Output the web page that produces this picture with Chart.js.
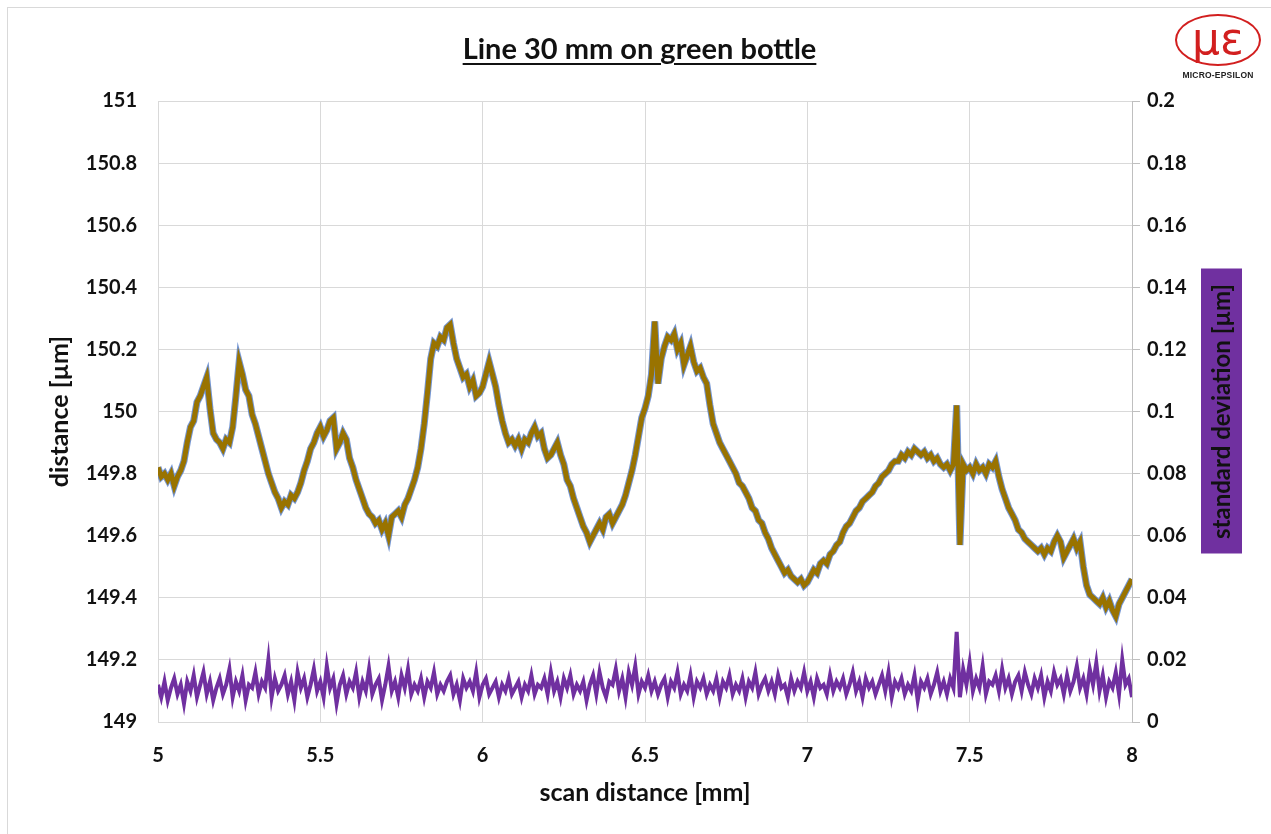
<!DOCTYPE html>
<html>
<head>
<meta charset="utf-8">
<script src="https://cdn.jsdelivr.net/npm/chart.js@4.4.1/dist/chart.umd.min.js"></script>
<style>
    html, body { margin: 0; padding: 0; background: #fff; }
    #wrap { position: relative; width: 1271px; height: 834px; overflow: hidden; }
    #frame { position: absolute; left: 7px; top: 7px; width: 1280px; height: 840px; border: 1px solid #d9d9d9; box-sizing: border-box; }
    #title { position: absolute; left: 0; width: 1279px; top: 30px; text-align: center;
             font: bold 29px Lato, sans-serif; color: #111; text-decoration: underline; text-underline-offset: 4px; }
    #logo { position: absolute; left: 1172px; top: 14px; width: 92px; }
    #logo .ring { width: 86px; height: 52px; border: 2.5px solid #d21f1f; border-radius: 50%; margin: 0 auto;
                  font: 44px "DejaVu Sans", sans-serif; color: #d21f1f; text-align: center; line-height: 46px; box-sizing: border-box; }
    #logo .name { font: bold 8.5px "Liberation Sans", Arial, sans-serif; color: #222; text-align: center; margin-top: 4px; letter-spacing: 0.2px; }
    #chartBox { position: absolute; left: 0; top: 0; width: 1271px; height: 834px; }
</style>
</head>
<body>
<div id="wrap">
    <div id="frame"></div>
    <div id="chartBox"><canvas id="lineChart"></canvas></div>
    <div id="title">Line 30 mm on green bottle</div>
    <div id="logo"><div class="ring">με</div><div class="name">MICRO-EPSILON</div></div>
</div>
<script>
// 측정 위치 (mm), 0.01 mm 간격
const scanStart = 5;
const scanStep = 0.01;

// 거리 프로파일 [µm] (5.00 ~ 8.00 mm)
const distance = [
    149.82, 149.79, 149.80, 149.78, 149.80, 149.76, 149.79, 149.81, 149.84, 149.90,
    149.95, 149.97, 150.03, 150.05, 150.08, 150.11, 150.01, 149.93, 149.91, 149.90,
    149.88, 149.91, 149.90, 149.95, 150.05, 150.16, 150.12, 150.07, 150.05, 149.99,
    149.96, 149.92, 149.88, 149.84, 149.80, 149.77, 149.74, 149.72, 149.69, 149.71,
    149.70, 149.73, 149.72, 149.74, 149.77, 149.81, 149.84, 149.88, 149.90, 149.93,
    149.95, 149.92, 149.94, 149.97, 149.98, 149.88, 149.90, 149.93, 149.91, 149.85,
    149.82, 149.78, 149.75, 149.72, 149.69, 149.67, 149.66, 149.64, 149.65, 149.62,
    149.64, 149.60, 149.66, 149.67, 149.68, 149.66, 149.70, 149.72, 149.75, 149.78,
    149.82, 149.88, 149.96, 150.06, 150.17, 150.22, 150.21, 150.24, 150.23, 150.27,
    150.28, 150.22, 150.17, 150.14, 150.11, 150.12, 150.08, 150.10, 150.05, 150.06,
    150.08, 150.12, 150.16, 150.12, 150.08, 150.02, 149.97, 149.93, 149.90, 149.91,
    149.89, 149.91, 149.88, 149.91, 149.90, 149.93, 149.95, 149.92, 149.93, 149.88,
    149.85, 149.86, 149.88, 149.90, 149.86, 149.83, 149.78, 149.76, 149.72, 149.69,
    149.66, 149.63, 149.61, 149.58, 149.60, 149.62, 149.64, 149.62, 149.66, 149.67,
    149.64, 149.66, 149.68, 149.70, 149.73, 149.77, 149.81, 149.86, 149.92, 149.98,
    150.01, 150.05, 150.12, 150.29, 150.09, 150.17, 150.21, 150.24, 150.23, 150.25,
    150.20, 150.22, 150.15, 150.18, 150.21, 150.16, 150.13, 150.14, 150.11, 150.09,
    150.02, 149.96, 149.93, 149.90, 149.88, 149.86, 149.84, 149.82, 149.80, 149.77,
    149.76, 149.74, 149.72, 149.69, 149.68, 149.65, 149.64, 149.61, 149.59, 149.56,
    149.54, 149.52, 149.50, 149.48, 149.49, 149.47, 149.46, 149.45, 149.46, 149.44,
    149.45, 149.47, 149.49, 149.48, 149.51, 149.52, 149.51, 149.54, 149.55, 149.57,
    149.58, 149.61, 149.63, 149.64, 149.66, 149.68, 149.69, 149.71, 149.72, 149.73,
    149.74, 149.76, 149.77, 149.79, 149.80, 149.81, 149.83, 149.84, 149.84, 149.86,
    149.85, 149.87, 149.86, 149.88, 149.87, 149.86, 149.87, 149.85, 149.86, 149.84,
    149.85, 149.83, 149.82, 149.83, 149.81, 149.83, 150.02, 149.57, 149.83, 149.81,
    149.82, 149.80, 149.83, 149.81, 149.82, 149.80, 149.83, 149.82, 149.84, 149.79,
    149.75, 149.72, 149.69, 149.67, 149.65, 149.62, 149.61, 149.59, 149.58, 149.57,
    149.56, 149.55, 149.56, 149.54, 149.56, 149.55, 149.58, 149.60, 149.58, 149.53,
    149.55, 149.57, 149.59, 149.56, 149.58, 149.50, 149.44, 149.41, 149.40, 149.39,
    149.38, 149.40, 149.37, 149.39, 149.36, 149.34, 149.38, 149.40, 149.42, 149.44,
    149.46
];

// 표준편차 [µm]
const stdDev = [
    0.012, 0.008, 0.013, 0.007, 0.011, 0.014, 0.009, 0.012, 0.006, 0.013,
    0.010, 0.015, 0.008, 0.012, 0.016, 0.009, 0.013, 0.007, 0.011, 0.014,
    0.009, 0.012, 0.017, 0.008, 0.013, 0.010, 0.015, 0.007, 0.012, 0.011,
    0.016, 0.009, 0.013, 0.011, 0.020, 0.008, 0.014, 0.010, 0.012, 0.015,
    0.009, 0.013, 0.007, 0.016, 0.011, 0.014, 0.008, 0.012, 0.017, 0.010,
    0.013, 0.008, 0.018, 0.011, 0.014, 0.006, 0.012, 0.015, 0.009, 0.013,
    0.011, 0.016, 0.008, 0.013, 0.010, 0.017, 0.009, 0.012, 0.014, 0.007,
    0.012, 0.018, 0.010, 0.013, 0.008, 0.015, 0.011, 0.017, 0.009, 0.012,
    0.010, 0.014, 0.008, 0.013, 0.011, 0.016, 0.009, 0.012, 0.010, 0.013,
    0.015, 0.009, 0.012, 0.007, 0.014, 0.011, 0.013, 0.010, 0.016, 0.008,
    0.012, 0.014, 0.009, 0.011, 0.013, 0.008, 0.012, 0.010, 0.014, 0.009,
    0.011, 0.013, 0.008, 0.012, 0.010, 0.015, 0.009, 0.012, 0.011, 0.014,
    0.009, 0.016, 0.010, 0.013, 0.008, 0.014, 0.011, 0.015, 0.009, 0.012,
    0.010, 0.013, 0.007, 0.012, 0.015, 0.009, 0.016, 0.011, 0.008, 0.013,
    0.012, 0.017, 0.010, 0.014, 0.008, 0.016, 0.012, 0.018, 0.009, 0.013,
    0.011, 0.015, 0.010, 0.013, 0.009, 0.012, 0.014, 0.008, 0.013, 0.011,
    0.016, 0.009, 0.012, 0.010, 0.015, 0.008, 0.013, 0.011, 0.014, 0.009,
    0.012, 0.010, 0.014, 0.008, 0.013, 0.011, 0.015, 0.009, 0.012, 0.010,
    0.014, 0.008, 0.013, 0.011, 0.016, 0.009, 0.012, 0.014, 0.010, 0.013,
    0.009, 0.015, 0.011, 0.012, 0.008, 0.014, 0.010, 0.013, 0.011, 0.016,
    0.010, 0.013, 0.008, 0.014, 0.011, 0.012, 0.009, 0.015, 0.010, 0.013,
    0.011, 0.014, 0.009, 0.012, 0.016, 0.010, 0.013, 0.008, 0.014, 0.011,
    0.013, 0.009, 0.012, 0.015, 0.010, 0.016, 0.008, 0.013, 0.011, 0.014,
    0.009, 0.012, 0.010, 0.015, 0.007, 0.013, 0.011, 0.014, 0.009, 0.012,
    0.016, 0.010, 0.013, 0.009, 0.014, 0.011, 0.029, 0.008, 0.017, 0.012,
    0.019, 0.010, 0.014, 0.011, 0.018, 0.009, 0.013, 0.012, 0.015, 0.010,
    0.017, 0.011, 0.014, 0.009, 0.013, 0.015, 0.010, 0.016, 0.012, 0.009,
    0.014, 0.011, 0.015, 0.008, 0.013, 0.010, 0.016, 0.012, 0.014, 0.009,
    0.015, 0.010, 0.013, 0.018, 0.011, 0.014, 0.009, 0.017, 0.012, 0.019,
    0.010, 0.015, 0.008, 0.013, 0.011, 0.016, 0.009, 0.020, 0.012, 0.014,
    0.008
];

// 축 범위
const distTicks = { min: 149, max: 151, step: 0.2 };
const stdTicks = { min: 0, max: 0.2, step: 0.02 };
const scanTicks = { min: 5, max: 8, step: 0.5 };

const scanPos = distance.map((_, i) => +(scanStart + i * scanStep).toFixed(2));

const tickFont = { family: 'Lato', size: 20, weight: 'bold' };
const titleFont = { family: 'Lato', size: 25, weight: 'bold' };

// 오른쪽 축 제목 (보라색 박스)
const stdTitlePlugin = {
    id: 'stdTitle',
    beforeDraw(chart) {
        const ctx = chart.ctx;
        const area = chart.chartArea;
        const cy = (area.top + area.bottom) / 2;
        ctx.save();
        ctx.fillStyle = '#7030A0';
        ctx.fillRect(1201, cy - 143, 41, 285);
        ctx.translate(1222, cy);
        ctx.rotate(-Math.PI / 2);
        ctx.font = 'bold 24px Lato';
        ctx.fillStyle = '#111';
        ctx.textAlign = 'center';
        ctx.textBaseline = 'middle';
        ctx.fillText('standard deviation [µm]', 0, 0);
        ctx.restore();
    }
};

initChart();

function initChart() {
    // 데이터셋은 앞의 것이 위에 그려짐
    new Chart(document.getElementById('lineChart'), {
        type: 'line',
        data: {
            labels: scanPos,
            datasets: [
                {
                    label: 'distance',
                    data: distance,
                    yAxisID: 'y',
                    borderColor: '#997300',
                    borderWidth: 5
                },
                {
                    label: 'distance (blue)',
                    data: distance,
                    yAxisID: 'y',
                    borderColor: 'rgba(68, 114, 196, 0.75)',
                    borderWidth: 7
                },
                {
                    label: 'standard deviation',
                    data: stdDev,
                    yAxisID: 'y1',
                    borderColor: '#7030A0',
                    borderWidth: 4
                }
            ]
        },
        options: {
            responsive: true,
            maintainAspectRatio: false,
            animation: false,
            layout: { padding: { top: 101, left: 0, right: 0, bottom: 0 } },
            elements: { point: { radius: 0 }, line: { tension: 0 } },
            plugins: { legend: { display: false }, tooltip: { enabled: false } },
            scales: {
                x: {
                    type: 'linear',
                    min: scanTicks.min,
                    max: scanTicks.max,
                    afterFit: s => { s.height = 112; },
                    ticks: {
                        stepSize: scanTicks.step,
                        font: tickFont,
                        color: '#111',
                        padding: 22,
                        maxRotation: 0,
                        callback: v => String(+v.toFixed(1))
                    },
                    grid: { color: '#d9d9d9', drawTicks: false },
                    border: { color: '#d9d9d9' },
                    title: {
                        display: true,
                        text: 'scan distance [mm]',
                        font: titleFont,
                        color: '#111',
                        padding: { top: 0, bottom: 26 }
                    }
                },
                y: {
                    position: 'left',
                    min: distTicks.min,
                    max: distTicks.max,
                    afterFit: s => { s.width = 158; },
                    ticks: {
                        stepSize: distTicks.step,
                        font: tickFont,
                        color: '#111',
                        padding: 21,
                        callback: v => String(+v.toFixed(1))
                    },
                    grid: { color: '#d9d9d9', drawTicks: false },
                    border: { color: '#d9d9d9' },
                    title: {
                        display: true,
                        text: 'distance [µm]',
                        font: titleFont,
                        color: '#111',
                        padding: { top: 45, bottom: 0 }
                    }
                },
                y1: {
                    position: 'right',
                    min: stdTicks.min,
                    max: stdTicks.max,
                    afterFit: s => { s.width = 139; },
                    ticks: {
                        stepSize: stdTicks.step,
                        font: tickFont,
                        color: '#111',
                        padding: 7,
                        callback: v => String(+v.toFixed(2))
                    },
                    grid: { drawOnChartArea: false, drawTicks: true, tickLength: 8, color: '#bfbfbf' },
                    border: { display: true, color: '#bfbfbf' }
                }
            }
        },
        plugins: [stdTitlePlugin]
    });
}
</script>
</body>
</html>
